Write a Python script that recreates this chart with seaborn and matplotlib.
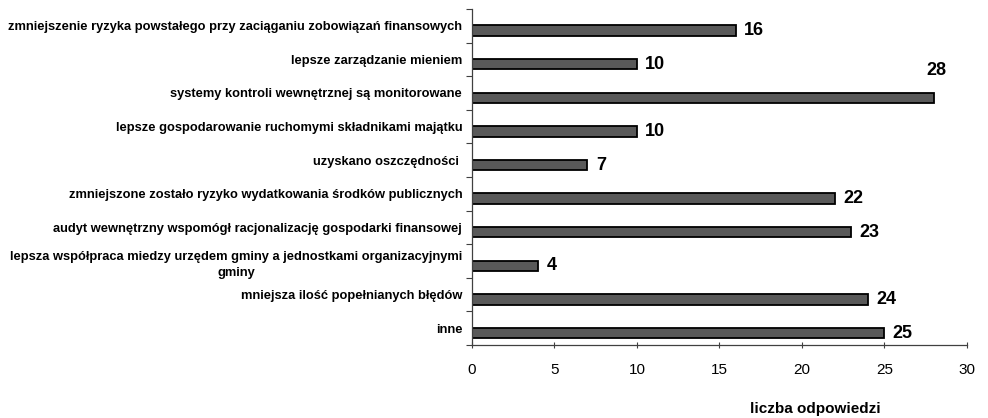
import matplotlib
matplotlib.use("Agg")
import matplotlib.pyplot as plt
import seaborn as sns
import pandas as pd
import numpy as np

categories = [
    "zmniejszenie ryzyka powstałego przy zaciąganiu zobowiązań finansowych",
    "lepsze zarządzanie mieniem",
    "systemy kontroli wewnętrznej są monitorowane",
    "lepsze gospodarowanie ruchomymi składnikami majątku",
    "uzyskano oszczędności ",
    "zmniejszone zostało ryzyko wydatkowania środków publicznych",
    "audyt wewnętrzny wspomógł racjonalizację gospodarki finansowej",
    "lepsza współpraca miedzy urzędem gminy a jednostkami organizacyjnymi\ngminy",
    "mniejsza ilość popełnianych błędów",
    "inne",
]
values = [16, 10, 28, 10, 7, 22, 23, 4, 24, 25]
x_ticks = [0, 5, 10, 15, 20, 25, 30]
x_label = "liczba odpowiedzi"

sns.set_theme(style="white")
plt.rcParams["font.family"] = ["Liberation Sans", "DejaVu Sans"]
plt.rcParams["text.color"] = "black"
plt.rcParams["xtick.color"] = "black"
plt.rcParams["ytick.color"] = "black"
plt.rcParams["axes.labelcolor"] = "black"

df = pd.DataFrame({"cat": categories, "val": values})

fig = plt.figure(figsize=(9.88, 4.18), dpi=100)
ax = fig.add_axes([0.4777, 0.1746, 0.5010, 0.8039])

sns.barplot(data=df, y="cat", x="val", orient="h", color="#595959",
            saturation=1, width=0.31, edgecolor="black", linewidth=1.3, ax=ax)

# shift bars down within each band (Excel-style offset)
for p in ax.patches:
    p.set_y(p.get_y() + 0.145)

ax.set_xlim(0, 30)
ax.set_ylim(len(categories) - 0.5, -0.5)
ax.set_xticks(x_ticks)
ax.set_xticklabels([str(t) for t in x_ticks], fontsize=11)
ax.set_yticks(range(len(categories)))
ax.set_yticklabels(categories, fontsize=9.3, fontweight="bold",
                   multialignment="center", linespacing=1.45)
ax.set_yticks(np.arange(-0.5, len(categories), 1.0), minor=True)
ax.tick_params(axis="y", which="major", length=0, pad=7)
ax.tick_params(axis="y", which="minor", length=4, width=0.8, color="#404040", direction="out", left=True)
ax.tick_params(axis="x", which="major", length=4, width=0.8, color="#404040", direction="inout", bottom=True, pad=11)

ax.set_ylabel("")
ax.set_xlabel(x_label, fontsize=11, fontweight="bold")
ax.xaxis.set_label_coords(0.693, -0.17)

for s in ["top", "right"]:
    ax.spines[s].set_visible(False)
for s in ["left", "bottom"]:
    ax.spines[s].set_color("#404040")
    ax.spines[s].set_linewidth(0.9)

for i, v in enumerate(values):
    if v + 2 >= 30:
        ax.annotate(str(v), (v, i + 0.145), xytext=(2, 20), textcoords="offset points",
                    ha="center", va="center", fontsize=13, fontweight="bold")
    else:
        ax.annotate(str(v), (v, i + 0.145), xytext=(6, 0), textcoords="offset points",
                    ha="left", va="center", fontsize=13, fontweight="bold")

fig.savefig("out.png", dpi=100)
